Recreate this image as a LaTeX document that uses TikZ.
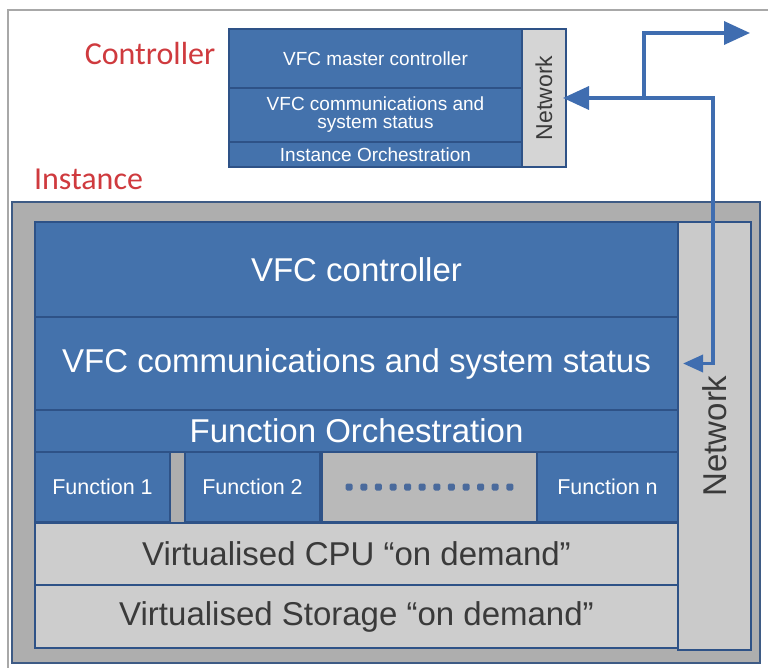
\documentclass[tikz,border=0pt]{standalone}
\usepackage{fontspec}
\setmainfont{Liberation Sans}
\newfontfamily\labelfont{Carlito}
\usetikzlibrary{arrows.meta,calc}
\definecolor{vfcblue}{HTML}{4472AC}
\definecolor{vfcedge}{HTML}{2E5287}
\definecolor{framegray}{HTML}{AEAEAE}
\definecolor{netgray}{HTML}{CACACA}
\definecolor{layergray}{HTML}{CDCDCD}
\definecolor{dotgray}{HTML}{B9B9B9}
\definecolor{dotblue}{HTML}{4A6A9C}
\definecolor{labelred}{HTML}{CF3A3E}
\definecolor{arrowblue}{HTML}{3F6DB0}
\definecolor{textdark}{HTML}{3A3A3A}
\definecolor{pagegray}{HTML}{A8A8A8}
\begin{document}
\begin{tikzpicture}[x=1pt,y=-1pt,
  sz/.style 2 args={minimum width=#1pt, minimum height=#2pt},
  box/.style={rectangle, inner sep=0pt, line width=2pt, align=center},
  bluebox/.style={box, draw=vfcedge, fill=vfcblue, text=white},
  graybox/.style={box, draw=vfcedge, fill=layergray, text=textdark},
  netbox/.style={box, draw=vfcedge, fill=netgray},
  bigtext/.style={font=\fontsize{33}{36}\selectfont},
  midtext/.style={font=\fontsize{21.5}{24}\selectfont},
  smalltext/.style={font=\fontsize{19}{21}\selectfont},
  redlabel/.style={text=labelred, font=\labelfont\fontsize{32}{36}\selectfont},
  link/.style={draw=arrowblue, line width=3.5pt},
  bigtip/.tip={Triangle[length=26pt,width=23pt]},
  smalltip/.tip={Triangle[length=20pt,width=17pt]}
]
\useasboundingbox (0,0) rectangle (768,668);
\fill[white] (0,0) rectangle (768,668);
% page frame
\draw[pagegray, line width=2pt] (8,668) -- (8,10) -- (768,10);

% ---- controller ----
\node[redlabel] (ctrllabel) at (150,54) {Controller};
\node[bluebox, sz={293}{59}, smalltext] (cmaster) at (375.5,58.5) {VFC master controller};
\node[bluebox, sz={293}{54}, smalltext] (ccomm) at (375.5,115) {VFC communications and\\[-3pt]system status};
\node[bluebox, sz={293}{25}, smalltext] (corch) at (375.5,154.5) {Instance Orchestration};
\node[netbox, fill=netgray!80!white, sz={44}{138}] (ctrlnet) at (544,98) {};
\node[rotate=90, font=\fontsize{23}{26}\selectfont, text=textdark] (ctrlnettext) at (ctrlnet.center) {Network};

% ---- instance ----
\node[redlabel] (instlabel) at (88.5,179) {Instance};
\node[box, draw=vfcedge!80!gray, fill=framegray, sz={748}{461}] (instframe) at (386,432.5) {};
\node[bluebox, sz={643}{95}, bigtext] (vfcctrl) at (356.5,269.5) {VFC controller};
\node[bluebox, sz={643}{93}, bigtext] (instcomm) at (356.5,363.5) {VFC communications and system status};
\node[bluebox, sz={643}{42}, bigtext] (forch) at (356.5,431) {Function Orchestration};
\node[bluebox, sz={135}{70}, midtext] (f1) at (102.5,487) {Function 1};
\node[bluebox, sz={135}{70}, midtext] (f2) at (252.5,487) {Function 2};
\node[box, draw=vfcedge, fill=dotgray, sz={215}{70}] (fdots) at (429.5,487) {};
\node[bluebox, sz={141}{70}, midtext] (fn) at (607.5,487) {Function n};
\node[graybox, sz={643}{62}, bigtext] (cpu) at (356.5,554) {Virtualised CPU “on demand”};
\node[graybox, sz={643}{63}, bigtext] (storage) at (356.5,616.5) {Virtualised Storage “on demand”};
\node[netbox, sz={73}{428}] (instnet) at (714.5,436) {};
\node[rotate=90, bigtext, text=textdark] (instnettext) at (instnet.center) {Network};

% row of dots standing for further functions
\foreach \i in {0,...,11}
  \fill[dotblue, rounded corners=1.5pt]
    ($(fdots.center)+(\i*14.6-80.3-3.5,-3.5)$) rectangle ++(7,7);

% ---- links ----
\coordinate (junction) at ($(ctrlnet.east |- 0,98)+(77,0)$);
\coordinate (outside) at (750,33);
\draw[link, bigtip-smalltip]
  ($(ctrlnet.east |- 0,98)+(-4,0)$) -- ($(junction)+(69,0)$)
  |- ($(instcomm.east)+(4,0)$);
\draw[link, -bigtip] (junction) |- (outside);
\end{tikzpicture}
\end{document}
